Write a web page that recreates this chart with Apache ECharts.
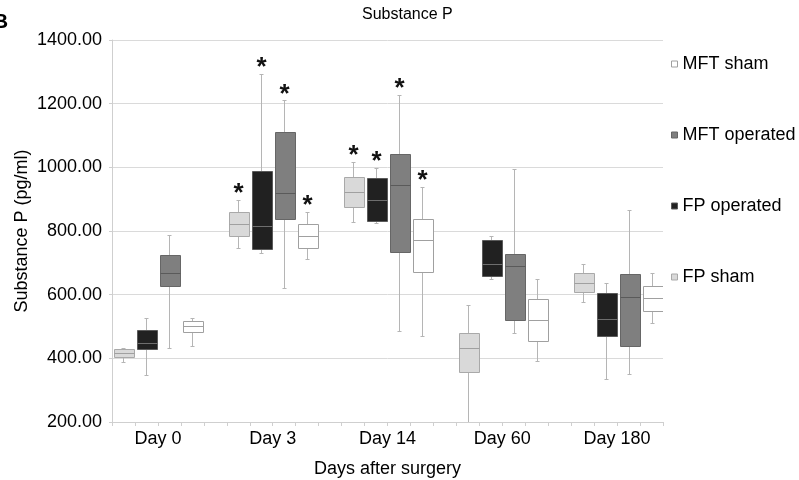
<!DOCTYPE html>
<html>
<head>
<meta charset="utf-8">
<script src="https://cdn.jsdelivr.net/npm/echarts@6/dist/echarts.min.js"></script>
<style>html,body{margin:0;padding:0;background:#fff}#main{width:799px;height:480px}</style>
</head>
<body>
<div id="main"></div>
<script>
var days = ['Day 0', 'Day 3', 'Day 14', 'Day 60', 'Day 180'];
// each row: [low, q1, median, q3, high] (pg/ml)
var fpSham      = [[390, 404, 416, 429, 434], [746, 784, 823, 860, 897], [829, 875, 923, 970, 1017], [200, 357, 431, 481, 567], [576, 608, 638, 667, 697]];
var fpOperated  = [[347, 429, 448, 489, 527], [730, 745, 816, 989, 1294], [824, 831, 897, 967, 997], [649, 660, 697, 771, 785], [335, 470, 523, 606, 637]];
var mftOperated = [[434, 628, 668, 724, 788], [620, 839, 920, 1112, 1210], [486, 734, 943, 1043, 1227], [479, 520, 691, 729, 995], [352, 440, 592, 664, 865]];
var mftSham     = [[440, 482, 503, 518, 527], [711, 747, 784, 821, 859], [470, 671, 772, 839, 938], [391, 455, 521, 585, 649], [511, 550, 589, 627, 667]];
// significance markers (*)
var fpShamStar      = [0, 1, 1, 0, 0];
var fpOperatedStar  = [0, 1, 1, 0, 0];
var mftOperatedStar = [0, 1, 1, 0, 0];
var mftShamStar     = [0, 1, 1, 0, 0];
var yMin = 200, yMax = 1400, yStep = 200;

var FONT = 'Liberation Sans, Arial, sans-serif';
var groupSize = 5; // 4 boxes + 1 empty slot
var slotCount = days.length * groupSize - 1;

var slots = [];
for (var i = 0; i < slotCount; i++) slots.push('s' + i);
var dayLabels = [];
for (var i = 0; i <= slotCount; i++) {
    var d = (i - 2) / groupSize;
    dayLabels.push(d === Math.floor(d) && d >= 0 ? days[d] : '');
}

function buildData(rows, stars, pos) {
    var out = [];
    for (var i = 0; i < rows.length; i++) {
        var r = rows[i];
        out.push([i * groupSize + pos, r[0], r[1], r[2], r[3], r[4], stars[i]]);
    }
    return out;
}

function boxRenderer(st) {
    return function (params, api) {
        var slot = api.value(0);
        var lo = api.coord([slot, api.value(1)]);
        var q1 = api.coord([slot, api.value(2)]);
        var md = api.coord([slot, api.value(3)]);
        var q3 = api.coord([slot, api.value(4)]);
        var hi = api.coord([slot, api.value(5)]);
        var w = Math.round(api.size([1, 0])[0] * 0.89);
        var cx = Math.round(lo[0]) + 0.5;
        var left = Math.round(cx - w / 2) + 0.5;
        var yq3 = Math.round(q3[1]) + 0.5, yq1 = Math.round(q1[1]) + 0.5, ymd = Math.round(md[1]) + 0.5;
        var ylo = Math.round(lo[1]) + 0.5, yhi = Math.round(hi[1]) + 0.5;
        var kids = [
            {type: 'line', shape: {x1: cx, y1: ylo, x2: cx, y2: yhi}, style: {stroke: '#b5b5b5', lineWidth: 1}},
            {type: 'line', shape: {x1: cx - 2, y1: ylo, x2: cx + 2, y2: ylo}, style: {stroke: '#b5b5b5', lineWidth: 1}},
            {type: 'line', shape: {x1: cx - 2, y1: yhi, x2: cx + 2, y2: yhi}, style: {stroke: '#b5b5b5', lineWidth: 1}},
            {type: 'rect', shape: {x: left, y: yq3, width: w, height: yq1 - yq3}, style: {fill: st.fill, stroke: st.border, lineWidth: 1}},
            {type: 'line', shape: {x1: left, y1: ymd, x2: left + w, y2: ymd}, style: {stroke: st.median, lineWidth: 1}}
        ];
        if (api.value(6)) {
            kids.push({type: 'text', style: {text: '*', x: cx, y: hi[1] - 6, align: 'center', verticalAlign: 'middle',
                font: 'bold 26px ' + FONT, fill: '#111'}});
        }
        return {type: 'group', children: kids};
    };
}

var styles = {
    'FP sham':      {fill: '#d9d9d9', border: '#a9a9a9', median: '#a0a0a0'},
    'FP operated':  {fill: '#212121', border: '#5a5a5a', median: '#6e6e6e'},
    'MFT operated': {fill: '#7f7f7f', border: '#666666', median: '#5a5a5a'},
    'MFT sham':     {fill: '#ffffff', border: '#a0a0a0', median: '#a0a0a0'}
};
var seriesDefs = [
    ['FP sham', fpSham, fpShamStar, 0],
    ['FP operated', fpOperated, fpOperatedStar, 1],
    ['MFT operated', mftOperated, mftOperatedStar, 2],
    ['MFT sham', mftSham, mftShamStar, 3]
];
var series = [];
for (var i = 0; i < seriesDefs.length; i++) {
    var name = seriesDefs[i][0];
    series.push({
        name: name,
        type: 'custom',
        xAxisIndex: 0,
        clip: true,
        itemStyle: {color: styles[name].fill, borderColor: styles[name].border},
        renderItem: boxRenderer(styles[name]),
        encode: {x: 0, y: [1, 2, 3, 4, 5]},
        data: buildData(seriesDefs[i][1], seriesDefs[i][2], seriesDefs[i][3])
    });
}

var legendOrder = ['MFT sham', 'MFT operated', 'FP operated', 'FP sham'];
var legendData = [];
for (var i = 0; i < legendOrder.length; i++) {
    var s = styles[legendOrder[i]];
    legendData.push({name: legendOrder[i], icon: 'rect', itemStyle: {color: s.fill, borderColor: s.border, borderWidth: 1}});
}

var chart = echarts.init(document.getElementById('main'));
chart.setOption({
    backgroundColor: '#fff',
    animation: false,
    textStyle: {fontFamily: FONT},
    title: {
        text: 'Substance P',
        left: 362, top: 7, padding: 0,
        textStyle: {fontSize: 16, fontWeight: 'normal', color: '#000', fontFamily: FONT}
    },
    graphic: [{type: 'text', left: -7, top: 12, style: {text: 'B', font: 'bold 21px ' + FONT, fill: '#000'}}],
    legend: {
        orient: 'vertical',
        left: 666, top: 50,
        itemWidth: 6, itemHeight: 6,
        itemGap: 53,
        selectedMode: false,
        textStyle: {fontSize: 18, color: '#000', fontFamily: FONT},
        data: legendData
    },
    grid: {left: 112, right: 136, top: 40, bottom: 58, containLabel: false, outerBoundsMode: 'none'},
    xAxis: [{
        type: 'category',
        data: slots,
        boundaryGap: true,
        name: 'Days after surgery',
        nameLocation: 'middle',
        nameGap: 38,
        nameMoveOverlap: false,
        nameTextStyle: {fontSize: 18, color: '#000', fontFamily: FONT},
        axisLine: {lineStyle: {color: '#cfcfcf'}},
        axisTick: {show: true, interval: 0, length: 4, lineStyle: {color: '#cfcfcf'}},
        axisLabel: {show: false},
        splitLine: {show: false}
    }, {
        type: 'category',
        data: dayLabels,
        boundaryGap: false,
        position: 'bottom',
        axisLine: {show: false},
        axisTick: {show: false},
        axisLabel: {show: true, interval: 0, margin: 8, fontSize: 18, color: '#000', fontFamily: FONT},
        splitLine: {show: false}
    }],
    yAxis: {
        type: 'value',
        min: yMin, max: yMax, interval: yStep,
        name: 'Substance P (pg/ml)',
        nameLocation: 'middle',
        nameGap: 81,
        nameMoveOverlap: false,
        nameTextStyle: {fontSize: 18, color: '#000', fontFamily: FONT},
        axisLine: {show: true, lineStyle: {color: '#cfcfcf'}},
        axisTick: {show: true, length: 3, lineStyle: {color: '#cfcfcf'}},
        axisLabel: {margin: 10, fontSize: 18, color: '#000', fontFamily: FONT,
            formatter: function (v) { return v.toFixed(2); }},
        splitLine: {lineStyle: {color: '#dadada'}}
    },
    series: series
});
</script>
</body>
</html>
